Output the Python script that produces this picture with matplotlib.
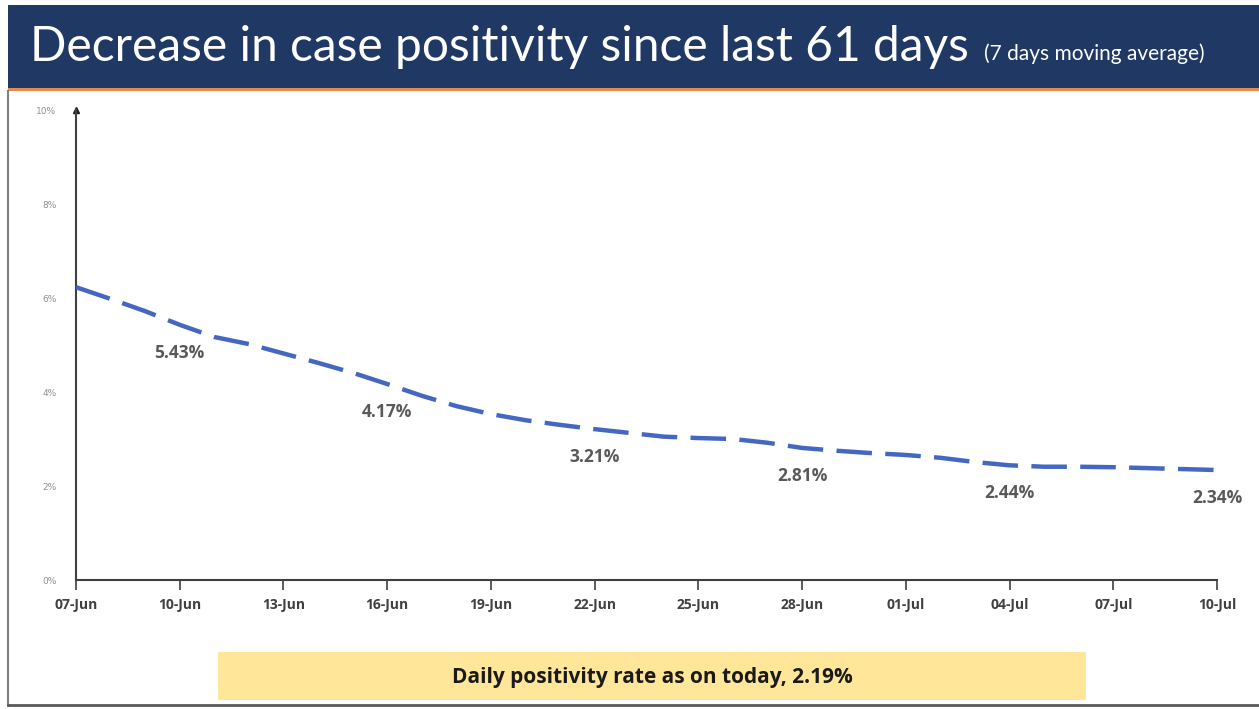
import numpy as np
import pandas as pd
import matplotlib
matplotlib.use("Agg")
import matplotlib.pyplot as plt
from matplotlib.patches import Rectangle

# 7 day moving average of case positivity (%)
dates = pd.date_range("2021-06-07", "2021-07-10", freq="D")
positivity = [6.23, 5.98, 5.72, 5.43, 5.17, 5.02, 4.82, 4.62, 4.41, 4.17,
              3.92, 3.70, 3.53, 3.40, 3.30, 3.21, 3.13, 3.05, 3.02, 3.00,
              2.92, 2.81, 2.75, 2.70, 2.66, 2.60, 2.51, 2.44, 2.41, 2.41,
              2.40, 2.38, 2.36, 2.34]
label_every = 6          # data labels on 10-Jun, 16-Jun, ... 10-Jul
tick_every = 3
title = "Decrease in case positivity since last 61 days"
subtitle = "(7 days moving average)"
footer = "Daily positivity rate as on today, 2.19%"

x = np.arange(len(dates))

fig = plt.figure(figsize=(12.59, 7.09), dpi=100)
fig.patch.set_facecolor("white")

# title banner
fig.patches.append(Rectangle((8/1259, 1 - 88/709), 1, 83/709, transform=fig.transFigure,
                             facecolor="#1f3864", edgecolor="none", zorder=0))
fig.patches.append(Rectangle((8/1259, 1 - 91/709), 1, 3/709, transform=fig.transFigure,
                             facecolor="#e58a4e", edgecolor="none", zorder=0))
# slide frame
fig.add_artist(plt.Line2D([8/1259, 8/1259], [1 - 91/709, 4/709], transform=fig.transFigure,
                          color="#7f7f7f", lw=1.5))
fig.add_artist(plt.Line2D([8/1259, 1], [4/709, 4/709], transform=fig.transFigure,
                          color="#595959", lw=2))

fig.text(30/1259, 1 - 47/709, title, color="white", fontsize=34.5, family="Lato",
         va="center", ha="left")
fig.text(984/1259, 1 - 54/709, subtitle, color="white", fontsize=15, family="Lato",
         va="center", ha="left")

ax = fig.add_axes([76/1259, (709 - 580)/709, (1217 - 76)/1259, (580 - 110)/709])
ax.plot(x, positivity, color="#4468c2", lw=3.2, dashes=(8, 3), solid_capstyle="butt",
        dash_capstyle="butt", zorder=3)

for i in range(3, len(x), label_every):
    ax.annotate(f"{positivity[i]:.2f}%", (x[i], positivity[i]), xytext=(0, -20),
                textcoords="offset points", ha="center", va="center", fontsize=12.5,
                fontweight="bold", color="#595959", family="Open Sans")

ax.set_xlim(0, x[-1])
ax.set_ylim(0, 10)
ax.set_xticks(x[::tick_every])
ax.set_xticklabels([d.strftime("%d-%b") for d in dates[::tick_every]], fontsize=10,
                   fontweight="bold", color="#404040", family="Open Sans")
ax.set_yticks(np.arange(0, 11, 2))
ax.set_yticklabels([f"{v}%" for v in range(0, 11, 2)], fontsize=6.5, color="#909090",
                   family="DejaVu Sans")
ax.tick_params(axis="y", length=0, pad=14)
ax.tick_params(axis="x", length=7, width=1.2, color="#404040", pad=6)
for s in ["top", "right"]:
    ax.spines[s].set_visible(False)
for s in ["left", "bottom"]:
    ax.spines[s].set_color("#404040")
    ax.spines[s].set_linewidth(1.5)
ax.plot(0, 1, marker="^", color="#202020", markersize=5, transform=ax.transAxes,
        clip_on=False)

# footer box
fig.patches.append(Rectangle((218/1259, 1 - 700/709), (1086 - 218)/1259, 48/709,
                             transform=fig.transFigure, facecolor="#ffe699",
                             edgecolor="none"))
fig.text(652/1259, 1 - 677/709, footer, fontsize=15, fontweight="bold", color="#1a1a1a",
         family="Open Sans", ha="center", va="center")

fig.savefig("out.png", dpi=100)
